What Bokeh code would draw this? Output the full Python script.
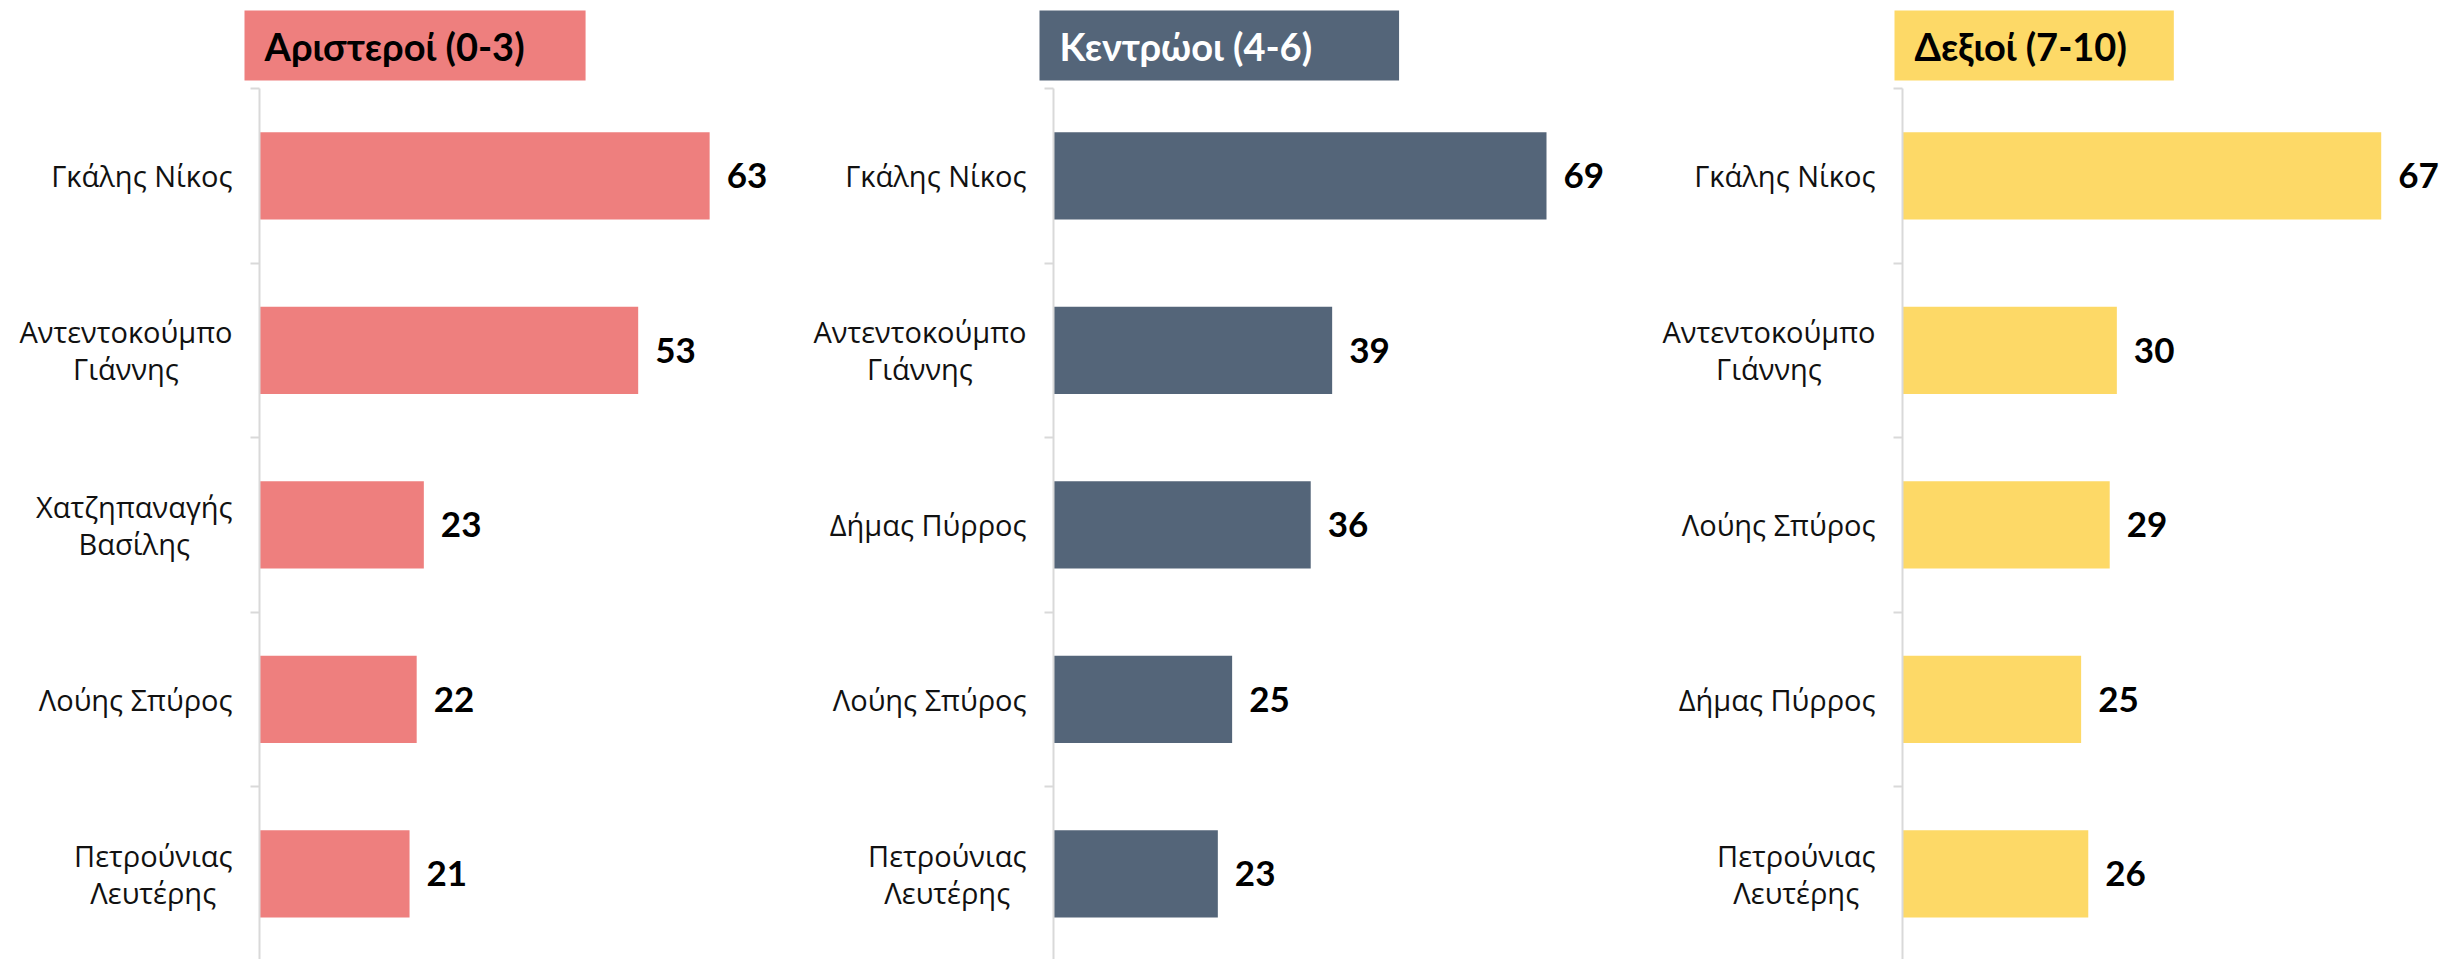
from bokeh.plotting import figure
from bokeh.layouts import row
from bokeh.models import ColumnDataSource, Range1d, FixedTicker, Label, LabelSet
from bokeh.core.properties import value
from bokeh.embed import file_html
from bokeh.resources import INLINE

# ---------------- data ----------------
titles = ["Αριστεροί (0-3)", "Κεντρώοι (4-6)", "Δεξιοί (7-10)"]

left_names = ["Γκάλης Νίκος", "Αντεντοκούμπο\nΓιάννης", "Χατζηπαναγής\nΒασίλης",
              "Λούης Σπύρος", "Πετρούνιας\nΛευτέρης"]
left_values = [63, 53, 23, 22, 21]

center_names = ["Γκάλης Νίκος", "Αντεντοκούμπο\nΓιάννης", "Δήμας Πύρρος",
                "Λούης Σπύρος", "Πετρούνιας\nΛευτέρης"]
center_values = [69, 39, 36, 25, 23]

right_names = ["Γκάλης Νίκος", "Αντεντοκούμπο\nΓιάννης", "Λούης Σπύρος",
               "Δήμας Πύρρος", "Πετρούνιας\nΛευτέρης"]
right_values = [67, 30, 29, 25, 26]

bar_colors = ["#EE7F7E", "#546579", "#FDD967"]
title_text_colors = ["#000000", "#FFFFFF", "#000000"]

# ---------------- layout / style ----------------
FONT = "Lato"
LABEL_FONT = "Open Sans"
PX_PER_UNIT = 7.145
BAND = 174.5
FIG_H = 959
AXIS_TOP = 88          # px from top of figure to first category boundary
BORDER = 5             # left border of each figure

panels = [
    dict(left=0, width=798, axis=259, title_dx=-15, pad_right=61),
    dict(left=798, width=847, axis=1053, title_dx=-14, pad_right=87),
    dict(left=1645, width=798, axis=1902, title_dx=-8, pad_right=47),
]

series = [(left_names, left_values), (center_names, center_values), (right_names, right_values)]

figs = []
for k, ((names, values), spec) in enumerate(zip(series, panels)):
    frame_left = spec["left"] + BORDER
    frame_w = spec["width"] - BORDER
    x_start = -(spec["axis"] - frame_left) / PX_PER_UNIT
    x_end = x_start + frame_w / PX_PER_UNIT
    y_top = -AXIS_TOP / BAND
    y_bottom = (FIG_H - AXIS_TOP) / BAND

    p = figure(width=spec["width"], height=FIG_H,
               x_range=Range1d(x_start, x_end),
               y_range=Range1d(y_bottom, y_top),
               x_axis_location=None, y_axis_location="left",
               toolbar_location=None, output_backend="svg",
               min_border_left=BORDER, min_border_right=0,
               min_border_top=0, min_border_bottom=0,
               outline_line_color=None)
    p.grid.visible = False

    n = len(names)
    pos = [i + 0.5 for i in range(n)]
    src = ColumnDataSource(dict(y=pos, v=values, t=[str(v) for v in values]))

    ax = p.yaxis[0]
    ax.fixed_location = 0
    ax.ticker = FixedTicker(ticks=[], minor_ticks=list(range(n + 1)))
    ax.bounds = (0, n)
    ax.axis_line_color = "#D9D9D9"
    ax.axis_line_width = 2
    ax.minor_tick_line_color = "#D9D9D9"
    ax.minor_tick_line_width = 2
    ax.minor_tick_out = 9
    ax.minor_tick_in = 0
    ax.major_tick_out = 0
    ax.major_tick_in = 0
    ax.major_label_standoff = 0
    ax.major_label_text_font_size = "0px"

    p.hbar(y="y", left=0, right="v", height=0.5, source=src,
           fill_color=bar_colors[k], line_color=None)

    p.add_layout(LabelSet(x="v", y="y", text="t", source=src, x_offset=17,
                          text_align="left", text_baseline="middle",
                          text_font=value(FONT), text_font_style="bold",
                          text_font_size="35px", text_color="#000000"))

    for name, yy in zip(names, pos):
        p.add_layout(Label(x=0, y=yy, x_offset=-27, text=name,
                           anchor="center_right", text_align="center",
                           text_font=LABEL_FONT, text_font_size="29px",
                           text_line_height=0.95, text_color="#111111"))

    p.add_layout(Label(x=0, y=(10 - AXIS_TOP) / BAND, x_offset=spec["title_dx"],
                       text=titles[k], anchor="top_left",
                       text_font=FONT, text_font_style="bold",
                       text_font_size="38px", text_color=title_text_colors[k],
                       background_fill_color=bar_colors[k],
                       padding=dict(left=20, right=spec["pad_right"], top=12, bottom=12)))
    figs.append(p)

layout = row(*figs)
open("out.html", "w").write(file_html(layout, INLINE))
